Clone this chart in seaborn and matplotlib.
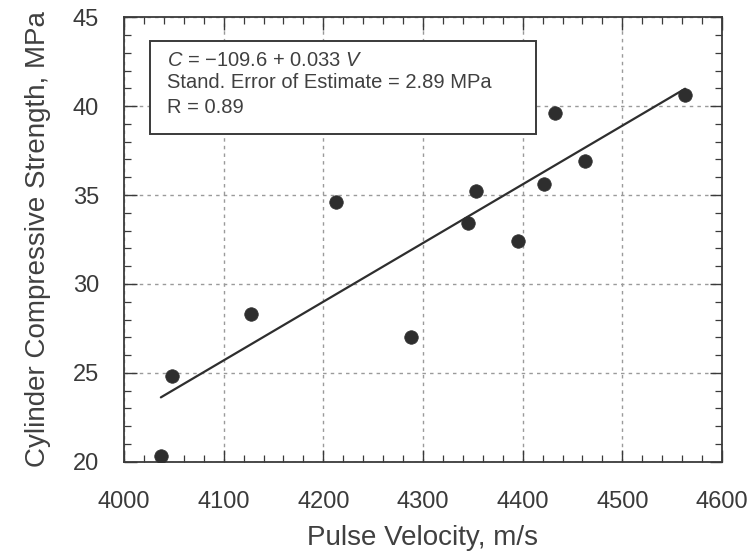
import numpy as np
import pandas as pd
import matplotlib.pyplot as plt
import seaborn as sns
from matplotlib.patches import Rectangle
from matplotlib.ticker import MultipleLocator

# Data
velocity = [4037, 4048, 4127, 4213, 4288, 4345, 4353, 4395, 4421, 4432, 4463, 4563]
strength = [20.3, 24.8, 28.3, 34.6, 27.0, 33.4, 35.2, 32.4, 35.6, 39.6, 36.9, 40.6]

# Regression line from the annotation: C = -109.6 + 0.033 V
intercept = -109.6
slope = 0.033

df = pd.DataFrame({'velocity': velocity, 'strength': strength})
v_line = [min(velocity), max(velocity)]
df_line = pd.DataFrame({'velocity': v_line,
                        'strength': [intercept + slope * v for v in v_line]})

sns.set_style('ticks')
plt.rcParams['font.family'] = ['Liberation Sans', 'DejaVu Sans']
plt.rcParams['mathtext.fontset'] = 'custom'
plt.rcParams['mathtext.rm'] = 'Liberation Sans'
plt.rcParams['mathtext.it'] = 'Liberation Sans:italic'

ink = '#3a3a3a'

fig, ax = plt.subplots(figsize=(7.56, 5.55), dpi=100)
fig.subplots_adjust(left=0.164, right=0.955, top=0.969, bottom=0.168)

sns.lineplot(data=df_line, x='velocity', y='strength', color='#2e2e2e', linewidth=1.6, ax=ax, zorder=3)
sns.scatterplot(data=df, x='velocity', y='strength', color='#2e2e2e', s=95, edgecolor='#2e2e2e',
                linewidth=0.5, ax=ax, zorder=4)

ax.set_xlim(4000, 4600)
ax.set_ylim(20, 45)
ax.xaxis.set_major_locator(MultipleLocator(100))
ax.xaxis.set_minor_locator(MultipleLocator(20))
ax.yaxis.set_major_locator(MultipleLocator(5))
ax.yaxis.set_minor_locator(MultipleLocator(1))

ax.grid(True, which='major', color='#9a9a9a', linestyle=(0, (2.5, 3)), linewidth=1.0)
ax.set_axisbelow(True)

ax.tick_params(which='both', direction='in', top=True, right=True, colors=ink, labelcolor=ink)
ax.tick_params(which='major', length=9, width=1.0, labelsize=17)
ax.tick_params(which='minor', length=5, width=0.9)
ax.tick_params(axis='x', which='major', pad=21)
ax.tick_params(axis='y', which='major', pad=18)

for side in ax.spines.values():
    side.set_visible(True)
    side.set_color(ink)
    side.set_linewidth(1.3)

ax.set_xlabel('Pulse Velocity, m/s', fontsize=20, color='#404040', labelpad=9)
ax.set_ylabel('Cylinder Compressive Strength, MPa', fontsize=20, color='#404040', labelpad=16)

# Annotation box
box = Rectangle((0.043, 0.737), 0.646, 0.21, transform=ax.transAxes, facecolor='white',
                edgecolor=ink, linewidth=1.4, zorder=5)
ax.add_patch(box)
lines = [r'$C$ = $-$109.6 + 0.033 $V$',
         'Stand. Error of Estimate = 2.89 MPa',
         'R = 0.89']
ypos = [0.903, 0.852, 0.798]
for txt, yy in zip(lines, ypos):
    ax.text(0.072, yy, txt, transform=ax.transAxes, fontsize=14.5, color='#404040',
            va='center', ha='left', zorder=6)

fig.savefig('out.png', dpi=100)
